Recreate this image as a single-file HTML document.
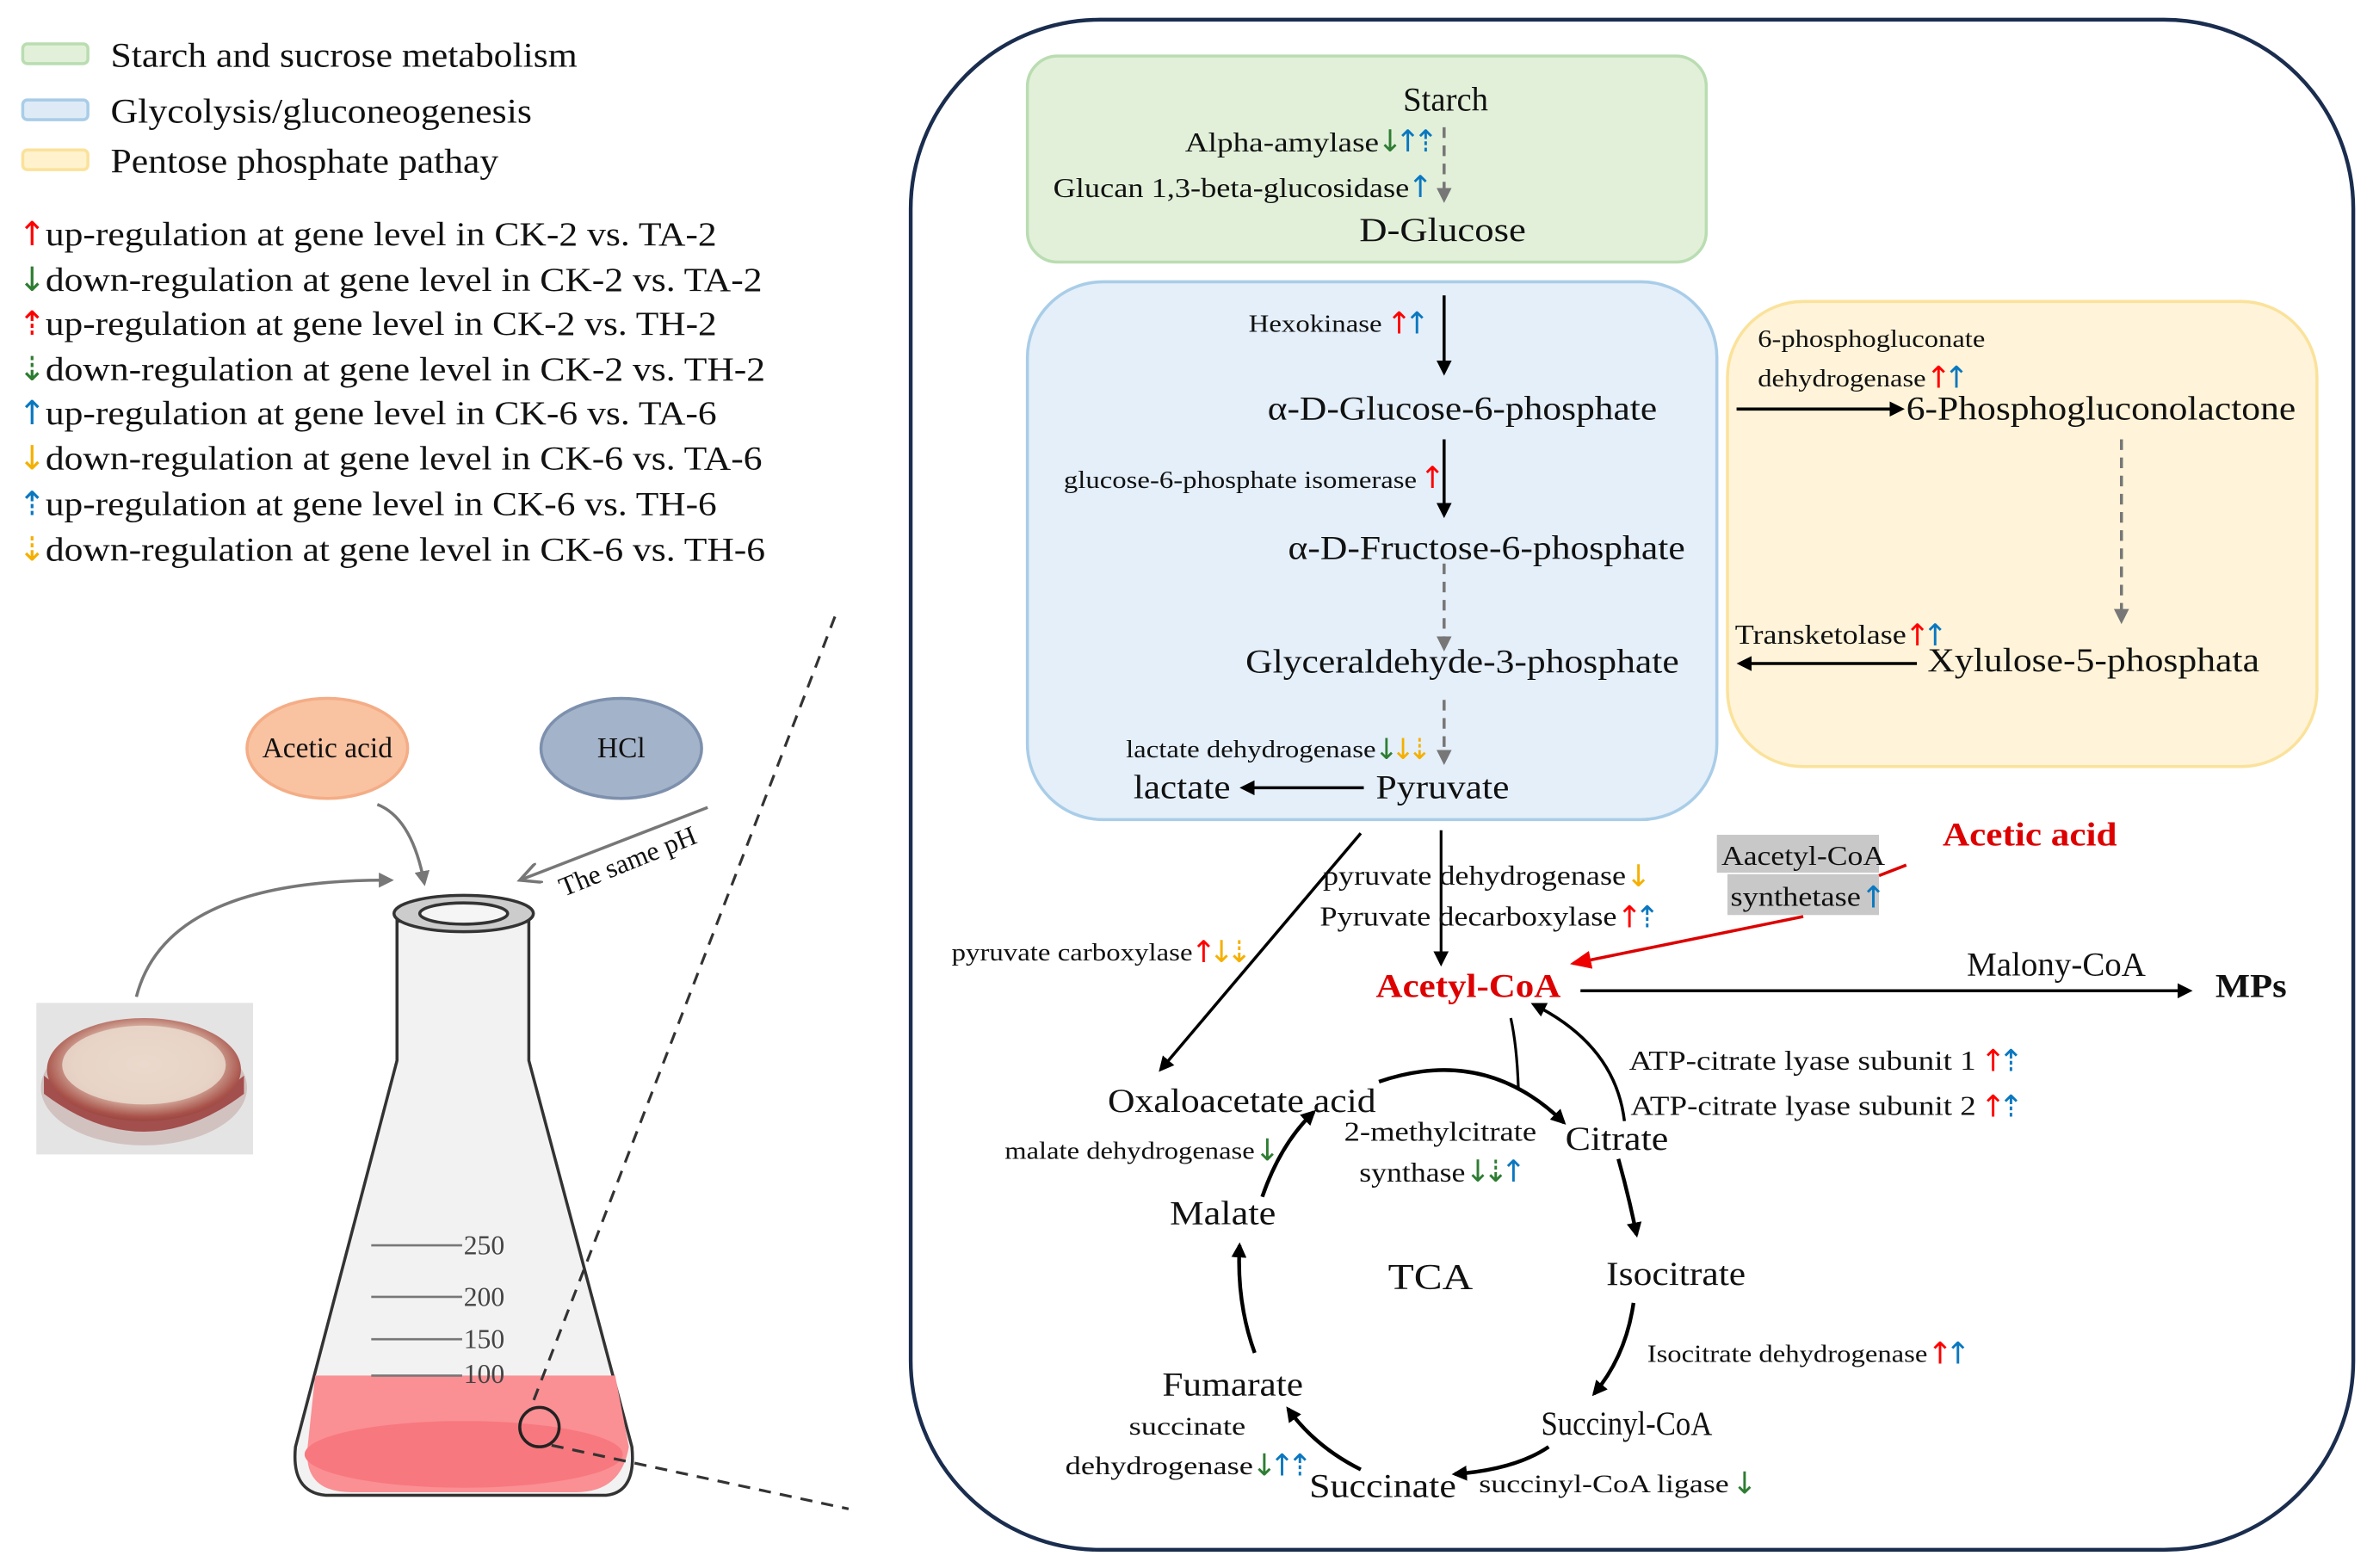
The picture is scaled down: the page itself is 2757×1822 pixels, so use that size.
<!DOCTYPE html>
<html><head><meta charset="utf-8"><style>
html,body{margin:0;padding:0;background:#fff}
svg{display:block}
text{font-family:"Liberation Serif","DejaVu Serif",serif;fill:#111}
.r{fill:#f00}.g{fill:#2e7d32}.b{fill:#0a78c0}.y{fill:#f5b000}
.ar{font-family:"DejaVu Sans",sans-serif;letter-spacing:-5px}
</style></head><body>
<svg width="2757" height="1822" viewBox="0 0 1566 1035" preserveAspectRatio="none" xmlns="http://www.w3.org/2000/svg">
<defs>
<marker id="ak" markerWidth="10" markerHeight="10" refX="8" refY="5" orient="auto" markerUnits="userSpaceOnUse"><path d="M0,0 L10,5 L0,10 z" fill="#000"/></marker>
<marker id="ag" markerWidth="10" markerHeight="10" refX="8" refY="5" orient="auto" markerUnits="userSpaceOnUse"><path d="M0,0 L10,5 L0,10 z" fill="#777"/></marker>
<marker id="agl" markerWidth="16" markerHeight="14" refX="14" refY="7" orient="auto" markerUnits="userSpaceOnUse"><path d="M0,0 L14,7 L0,14" fill="none" stroke="#777" stroke-width="2"/></marker>
<marker id="ar" markerWidth="14" markerHeight="12" refX="12" refY="6" orient="auto" markerUnits="userSpaceOnUse"><path d="M0,0 L14,6 L0,12 z" fill="#e00"/></marker>
<radialGradient id="dish" cx="0.5" cy="0.45" r="0.6"><stop offset="0" stop-color="#e8d6c8"/><stop offset="0.6" stop-color="#d8b4a4"/><stop offset="0.85" stop-color="#a8524a"/><stop offset="1" stop-color="#8a3a35"/></radialGradient>
</defs>

<!-- Legend -->
<rect x="15" y="29" width="43" height="13" rx="3" fill="#e2f0d9" stroke="#b9ddb1" stroke-width="2"/>
<rect x="15" y="66" width="43" height="13" rx="3" fill="#deebf7" stroke="#a9cde8" stroke-width="2"/>
<rect x="15" y="99" width="43" height="13" rx="3" fill="#fff2cc" stroke="#fbe29b" stroke-width="2"/>
<text x="73" y="44" font-size="23" textLength="308" lengthAdjust="spacingAndGlyphs">Starch and sucrose metabolism</text>
<text x="73" y="81" font-size="23" textLength="278" lengthAdjust="spacingAndGlyphs">Glycolysis/gluconeogenesis</text>
<text x="73" y="114" font-size="23" textLength="256" lengthAdjust="spacingAndGlyphs">Pentose phosphate pathay</text>
<g font-size="22">
<text x="12" y="162"><tspan class="ar r">↑</tspan></text><text x="30" y="162" textLength="443" lengthAdjust="spacingAndGlyphs">up-regulation at gene level in CK-2 vs. TA-2</text>
<text x="12" y="192"><tspan class="ar g">↓</tspan></text><text x="30" y="192" textLength="473" lengthAdjust="spacingAndGlyphs">down-regulation at gene level in CK-2 vs. TA-2</text>
<text x="12" y="221"><tspan class="ar r">⇡</tspan></text><text x="30" y="221" textLength="443" lengthAdjust="spacingAndGlyphs">up-regulation at gene level in CK-2 vs. TH-2</text>
<text x="12" y="251"><tspan class="ar g">⇣</tspan></text><text x="30" y="251" textLength="475" lengthAdjust="spacingAndGlyphs">down-regulation at gene level in CK-2 vs. TH-2</text>
<text x="12" y="280"><tspan class="ar b">↑</tspan></text><text x="30" y="280" textLength="443" lengthAdjust="spacingAndGlyphs">up-regulation at gene level in CK-6 vs. TA-6</text>
<text x="12" y="310"><tspan class="ar y">↓</tspan></text><text x="30" y="310" textLength="473" lengthAdjust="spacingAndGlyphs">down-regulation at gene level in CK-6 vs. TA-6</text>
<text x="12" y="340"><tspan class="ar b">⇡</tspan></text><text x="30" y="340" textLength="443" lengthAdjust="spacingAndGlyphs">up-regulation at gene level in CK-6 vs. TH-6</text>
<text x="12" y="370"><tspan class="ar y">⇣</tspan></text><text x="30" y="370" textLength="475" lengthAdjust="spacingAndGlyphs">down-regulation at gene level in CK-6 vs. TH-6</text>
</g>

<!-- Left: reagents & flask -->
<ellipse cx="216" cy="494" rx="53" ry="33" fill="#f9c3a2" stroke="#f4ad86" stroke-width="2"/>
<text x="216" y="500" font-size="19" text-anchor="middle">Acetic acid</text>
<ellipse cx="410" cy="494" rx="53" ry="33" fill="#a3b3c9" stroke="#7d90ad" stroke-width="2"/>
<text x="410" y="500" font-size="19" text-anchor="middle">HCl</text>
<path d="M249,531 Q272,540 280,583" fill="none" stroke="#777" stroke-width="2" marker-end="url(#ag)"/>
<path d="M467,533 L343,581" fill="none" stroke="#777" stroke-width="2" marker-end="url(#agl)"/>
<text x="372" y="592" font-size="18" transform="rotate(-22 372 592)">The same pH</text>
<path d="M90,658 Q110,580 258,581" fill="none" stroke="#777" stroke-width="2" marker-end="url(#ag)"/>
<rect x="24" y="662" width="143" height="100" fill="#e4e4e4"/>
<ellipse cx="95" cy="718" rx="68" ry="38" fill="#c9b4b0" opacity="0.7"/>
<path d="M29,710 Q95,765 161,710 L161,722 Q95,772 29,722z" fill="#9a3b38" opacity="0.85"/>
<ellipse cx="95" cy="706" rx="64" ry="34" fill="url(#dish)"/>
<ellipse cx="95" cy="703" rx="54" ry="26" fill="#ead9cc" opacity="0.85"/>

<!-- flask -->
<path d="M262,608 L262,700 L195,955 Q192,985 215,987 L400,987 Q420,985 417,955 L349,700 L349,608 z" fill="#f2f2f2" stroke="#333" stroke-width="2"/>
<path d="M208,908 L406,908 L415,955 Q410,985 380,985 L232,985 Q200,985 203,955 z" fill="#fa8f94"/>
<ellipse cx="306" cy="960" rx="105" ry="22" fill="#f7787e"/>
<ellipse cx="306" cy="603" rx="46" ry="12" fill="#ccc" stroke="#333" stroke-width="2"/>
<ellipse cx="306" cy="603" rx="29" ry="7" fill="#f5f5f5" stroke="#333" stroke-width="2"/>
<g stroke="#777" stroke-width="1.5">
<line x1="245" y1="822" x2="305" y2="822"/><line x1="245" y1="856" x2="305" y2="856"/>
<line x1="245" y1="884" x2="305" y2="884"/><line x1="245" y1="908" x2="305" y2="908"/></g>
<g font-size="18"><text x="306" y="828" style="fill:#444">250</text><text x="306" y="862" style="fill:#444">200</text><text x="306" y="890" style="fill:#444">150</text><text x="306" y="913" style="fill:#444">100</text></g>
<circle cx="356" cy="942" r="13" fill="none" stroke="#222" stroke-width="2"/>
<line x1="551" y1="407" x2="350" y2="930" stroke="#333" stroke-width="1.8" stroke-dasharray="8,6"/>
<line x1="364" y1="954" x2="560" y2="996" stroke="#333" stroke-width="1.8" stroke-dasharray="8,6"/>

<!-- Main cell -->
<rect x="601" y="13" width="952" height="1010" rx="125" fill="none" stroke="#1a2d4f" stroke-width="2.5"/>
<rect x="678" y="37" width="448" height="136" rx="20" fill="#e2f0d9" stroke="#b9ddb1" stroke-width="2"/>
<rect x="678" y="186" width="455" height="355" rx="50" fill="#e4eff9" stroke="#a9cde8" stroke-width="2"/>
<rect x="1140" y="199" width="389" height="307" rx="50" fill="#fff4d9" stroke="#fbe29b" stroke-width="2"/>

<text x="954" y="73" font-size="22" text-anchor="middle">Starch</text>
<text x="910" y="100" font-size="18" text-anchor="end" textLength="128" lengthAdjust="spacingAndGlyphs">Alpha-amylase</text>
<text x="909" y="100" font-size="20"><tspan class="ar g">↓</tspan><tspan class="ar b">↑⇡</tspan></text>
<text x="930" y="130" font-size="18" text-anchor="end" textLength="235" lengthAdjust="spacingAndGlyphs">Glucan 1,3-beta-glucosidase</text>
<text x="929" y="130" font-size="20"><tspan class="ar b">↑</tspan></text>
<line x1="953" y1="84" x2="953" y2="132" stroke="#777" stroke-width="2" stroke-dasharray="7,5" marker-end="url(#ag)"/>
<text x="952" y="159" font-size="22" text-anchor="middle" textLength="110" lengthAdjust="spacingAndGlyphs">D-Glucose</text>

<text x="912" y="219" font-size="16" text-anchor="end" textLength="88" lengthAdjust="spacingAndGlyphs">Hexokinase</text>
<text x="915" y="220" font-size="20"><tspan class="ar r">↑</tspan><tspan class="ar b">↑</tspan></text>
<line x1="953" y1="195" x2="953" y2="246" stroke="#000" stroke-width="2" marker-end="url(#ak)"/>
<text x="965" y="277" font-size="22" text-anchor="middle" textLength="257" lengthAdjust="spacingAndGlyphs">α-D-Glucose-6-phosphate</text>
<text x="935" y="322" font-size="16" text-anchor="end" textLength="233" lengthAdjust="spacingAndGlyphs">glucose-6-phosphate isomerase</text>
<text x="937" y="322" font-size="20"><tspan class="ar r">↑</tspan></text>
<line x1="953" y1="290" x2="953" y2="340" stroke="#000" stroke-width="2" marker-end="url(#ak)"/>
<text x="981" y="369" font-size="22" text-anchor="middle" textLength="262" lengthAdjust="spacingAndGlyphs">α-D-Fructose-6-phosphate</text>
<line x1="953" y1="372" x2="953" y2="428" stroke="#777" stroke-width="2" stroke-dasharray="7,5" marker-end="url(#ag)"/>
<text x="965" y="444" font-size="22" text-anchor="middle" textLength="286" lengthAdjust="spacingAndGlyphs">Glyceraldehyde-3-phosphate</text>
<line x1="953" y1="462" x2="953" y2="503" stroke="#777" stroke-width="2" stroke-dasharray="7,5" marker-end="url(#ag)"/>
<text x="908" y="500" font-size="16" text-anchor="end" textLength="165" lengthAdjust="spacingAndGlyphs">lactate dehydrogenase</text>
<text x="907" y="501" font-size="19"><tspan class="ar g">↓</tspan><tspan class="ar y">↓⇣</tspan></text>
<text x="748" y="527" font-size="22" textLength="64" lengthAdjust="spacingAndGlyphs">lactate</text>
<line x1="900" y1="520" x2="820" y2="520" stroke="#000" stroke-width="2" marker-end="url(#ak)"/>
<text x="908" y="527" font-size="22" textLength="88" lengthAdjust="spacingAndGlyphs">Pyruvate</text>

<text x="1160" y="229" font-size="16" textLength="150" lengthAdjust="spacingAndGlyphs">6-phosphogluconate</text>
<text x="1160" y="255" font-size="16" textLength="111" lengthAdjust="spacingAndGlyphs">dehydrogenase</text>
<text x="1271" y="256" font-size="20"><tspan class="ar r">↑</tspan><tspan class="ar b">↑</tspan></text>
<line x1="1146" y1="270" x2="1255" y2="270" stroke="#000" stroke-width="2" marker-end="url(#ak)"/>
<text x="1258" y="277" font-size="22" textLength="257" lengthAdjust="spacingAndGlyphs">6-Phosphogluconolactone</text>
<line x1="1400" y1="290" x2="1400" y2="410" stroke="#777" stroke-width="2" stroke-dasharray="7,5" marker-end="url(#ag)"/>
<text x="1145" y="425" font-size="18" textLength="113" lengthAdjust="spacingAndGlyphs">Transketolase</text>
<text x="1257" y="426" font-size="20"><tspan class="ar r">↑</tspan><tspan class="ar b">↑</tspan></text>
<text x="1272" y="443" font-size="22" textLength="219" lengthAdjust="spacingAndGlyphs">Xylulose-5-phosphata</text>
<line x1="1265" y1="438" x2="1148" y2="438" stroke="#000" stroke-width="2" marker-end="url(#ak)"/>

<!-- Pyruvate to Acetyl-CoA -->
<line x1="951" y1="548" x2="951" y2="636" stroke="#000" stroke-width="1.8" marker-end="url(#ak)"/>
<line x1="898" y1="550" x2="766" y2="706" stroke="#000" stroke-width="2" marker-end="url(#ak)"/>
<text x="873" y="584" font-size="18" textLength="200" lengthAdjust="spacingAndGlyphs">pyruvate dehydrogenase</text>
<text x="1073" y="585" font-size="20"><tspan class="ar y">↓</tspan></text>
<text x="871" y="611" font-size="18" textLength="196" lengthAdjust="spacingAndGlyphs">Pyruvate decarboxylase</text>
<text x="1067" y="612" font-size="20"><tspan class="ar r">↑</tspan><tspan class="ar b">⇡</tspan></text>
<text x="628" y="634" font-size="16" textLength="159" lengthAdjust="spacingAndGlyphs">pyruvate carboxylase</text>
<text x="786" y="635" font-size="20"><tspan class="ar r">↑</tspan><tspan class="ar y">↓⇣</tspan></text>

<rect x="1133" y="551" width="107" height="25" fill="#c8c8c8"/>
<rect x="1140" y="577" width="100" height="27" fill="#c8c8c8"/>
<text x="1136" y="571" font-size="18" textLength="108" lengthAdjust="spacingAndGlyphs">Aacetyl-CoA</text>
<text x="1142" y="598" font-size="18" textLength="86" lengthAdjust="spacingAndGlyphs">synthetase</text>
<text x="1228" y="599" font-size="20"><tspan class="ar b">↑</tspan></text>
<text x="1282" y="558" font-size="22" font-weight="bold" style="fill:#d00" textLength="115" lengthAdjust="spacingAndGlyphs">Acetic acid</text>
<path d="M1258,571 L1240,578 M1190,605 L1038,636" stroke="#d00" stroke-width="2" fill="none" marker-end="url(#ar)"/>
<text x="908" y="658" font-size="22" font-weight="bold" style="fill:#d00" textLength="122" lengthAdjust="spacingAndGlyphs">Acetyl-CoA</text>
<line x1="1043" y1="654" x2="1445" y2="654" stroke="#000" stroke-width="2" marker-end="url(#ak)"/>
<text x="1298" y="644" font-size="22" textLength="118" lengthAdjust="spacingAndGlyphs">Malony-CoA</text>
<text x="1462" y="658" font-size="22" font-weight="bold" textLength="47" lengthAdjust="spacingAndGlyphs">MPs</text>

<!-- TCA -->
<text x="1075" y="706" font-size="18" textLength="229" lengthAdjust="spacingAndGlyphs">ATP-citrate lyase subunit 1</text>
<text x="1307" y="707" font-size="20"><tspan class="ar r">↑</tspan><tspan class="ar b">⇡</tspan></text>
<text x="1076" y="736" font-size="18" textLength="228" lengthAdjust="spacingAndGlyphs">ATP-citrate lyase subunit 2</text>
<text x="1307" y="737" font-size="20"><tspan class="ar r">↑</tspan><tspan class="ar b">⇡</tspan></text>
<path d="M1072,740 Q1066,690 1012,663" fill="none" stroke="#000" stroke-width="2" marker-end="url(#ak)"/>
<path d="M997,672 Q1001,690 1002,718" fill="none" stroke="#000" stroke-width="1.8"/>
<text x="731" y="734" font-size="22" textLength="177" lengthAdjust="spacingAndGlyphs">Oxaloacetate acid</text>
<path d="M910,714 Q980,690 1032,741" fill="none" stroke="#000" stroke-width="2.5" marker-end="url(#ak)"/>
<text x="887" y="753" font-size="18" textLength="127" lengthAdjust="spacingAndGlyphs">2-methylcitrate</text>
<text x="897" y="780" font-size="18" textLength="70" lengthAdjust="spacingAndGlyphs">synthase</text>
<text x="967" y="780" font-size="20"><tspan class="ar g">↓⇣</tspan><tspan class="ar b">↑</tspan></text>
<text x="1033" y="759" font-size="22" textLength="68" lengthAdjust="spacingAndGlyphs">Citrate</text>
<text x="663" y="765" font-size="16" textLength="165" lengthAdjust="spacingAndGlyphs">malate dehydrogenase</text>
<text x="828" y="766" font-size="20"><tspan class="ar g">↓</tspan></text>
<path d="M833,790 Q845,755 867,734" fill="none" stroke="#000" stroke-width="2.5" marker-end="url(#ak)"/>
<text x="772" y="808" font-size="22" textLength="70" lengthAdjust="spacingAndGlyphs">Malate</text>
<path d="M1068,765 Q1075,790 1080,815" fill="none" stroke="#000" stroke-width="2.5" marker-end="url(#ak)"/>
<text x="1060" y="848" font-size="22" textLength="92" lengthAdjust="spacingAndGlyphs">Isocitrate</text>
<text x="916" y="851" font-size="24" textLength="56" lengthAdjust="spacingAndGlyphs">TCA</text>
<path d="M1078,860 Q1073,895 1052,920" fill="none" stroke="#000" stroke-width="2.5" marker-end="url(#ak)"/>
<text x="1087" y="899" font-size="16" textLength="185" lengthAdjust="spacingAndGlyphs">Isocitrate dehydrogenase</text>
<text x="1272" y="900" font-size="20"><tspan class="ar r">↑</tspan><tspan class="ar b">↑</tspan></text>
<text x="1017" y="947" font-size="22" textLength="113" lengthAdjust="spacingAndGlyphs">Succinyl-CoA</text>
<path d="M1022,955 Q1000,970 960,973" fill="none" stroke="#000" stroke-width="2.5" marker-end="url(#ak)"/>
<text x="976" y="985" font-size="17" textLength="165" lengthAdjust="spacingAndGlyphs">succinyl-CoA ligase</text>
<text x="1143" y="986" font-size="20"><tspan class="ar g">↓</tspan></text>
<text x="864" y="988" font-size="22" textLength="97" lengthAdjust="spacingAndGlyphs">Succinate</text>
<path d="M898,970 Q868,955 850,930" fill="none" stroke="#000" stroke-width="2.5" marker-end="url(#ak)"/>
<text x="767" y="921" font-size="22" textLength="93" lengthAdjust="spacingAndGlyphs">Fumarate</text>
<text x="745" y="947" font-size="17" textLength="77" lengthAdjust="spacingAndGlyphs">succinate</text>
<text x="703" y="973" font-size="17" textLength="124" lengthAdjust="spacingAndGlyphs">dehydrogenase</text>
<text x="826" y="974" font-size="20"><tspan class="ar g">↓</tspan><tspan class="ar b">↑⇡</tspan></text>
<path d="M828,893 Q816,860 818,822" fill="none" stroke="#000" stroke-width="2.5" marker-end="url(#ak)"/>
</svg>
</body></html>
